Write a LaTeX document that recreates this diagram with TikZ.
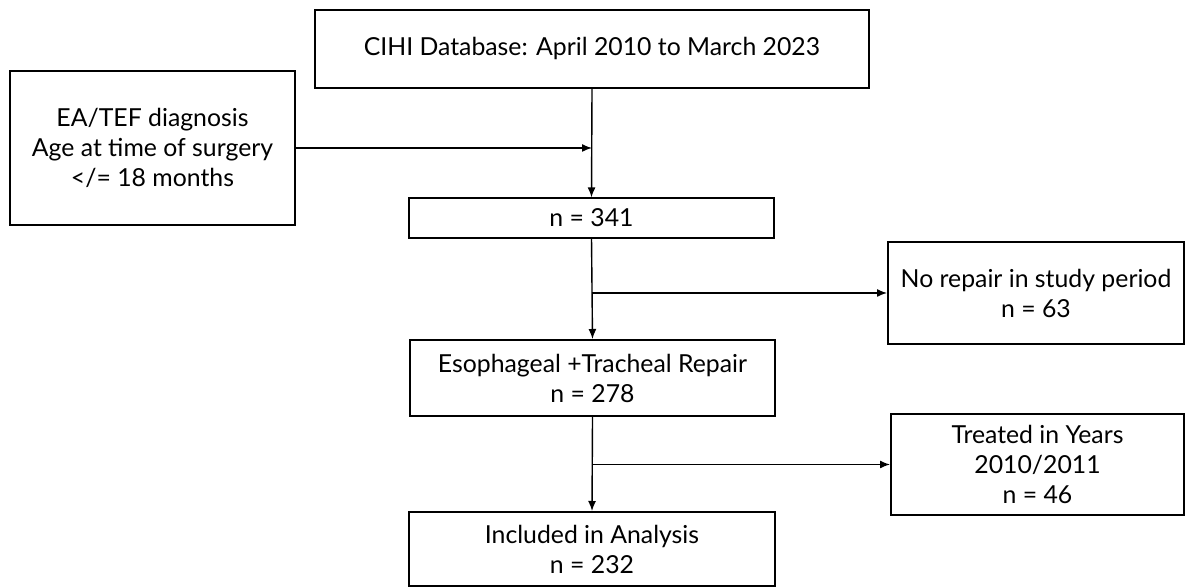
\documentclass[tikz,border=0pt]{standalone}
\usepackage{fontspec}
\setmainfont{Lato}
\usetikzlibrary{arrows.meta}

\begin{document}
\begin{tikzpicture}[x=0.5pt,y=0.5pt,
        box/.style={draw,line width=1pt,align=center,inner sep=0pt,font=\fontsize{12.4}{15}\selectfont},
        flow/.style={-{Latex[length=5pt,width=4pt]},line width=0.7pt}]
        \useasboundingbox (0,0) rectangle (1186,587);

        % Main column
        \node[box,minimum width=277pt,minimum height=39pt] (cihi) at (592,538) {CIHI Database: April 2010 to March 2023};
        \node[box,line width=0.6pt,minimum width=182.5pt,minimum height=20pt] (n341) at (591.5,369) {n = 341};
        \node[box,minimum width=182.5pt,minimum height=38pt] (esoph) at (592.5,209) {Esophageal +Tracheal Repair\\n = 278};
        \node[box,minimum width=183pt,minimum height=37pt] (incl) at (592,38) {Included in Analysis\\n = 232};

        % Criteria on the left
        \node[box,minimum width=142.5pt,minimum height=77pt] (eatef) at (152.5,439) {EA/TEF diagnosis\\Age at time of surgery\\</= 18 months};

        % Exclusions on the right
        \node[box,minimum width=148pt,minimum height=51pt] (norep) at (1036,294) {No repair in study period\\n = 63};
        \node[box,minimum width=146.5pt,minimum height=50.5pt] (treated) at (1037.5,122.5) {Treated in Years\\2010/2011\\n = 46};

        % Arrows
        \draw[flow] (cihi.south) -- (n341.north);
        \draw[flow] (eatef.east) -- (eatef.east -| cihi.south);
        \draw[flow] (n341.south) -- (esoph.north);
        \draw[flow] (n341.south |- norep.west) -- (norep.west);
        \draw[flow] (esoph.south) -- (incl.north);
        \draw[flow] (esoph.south |- treated.west) -- (treated.west);

    \end{tikzpicture}
\end{document}
